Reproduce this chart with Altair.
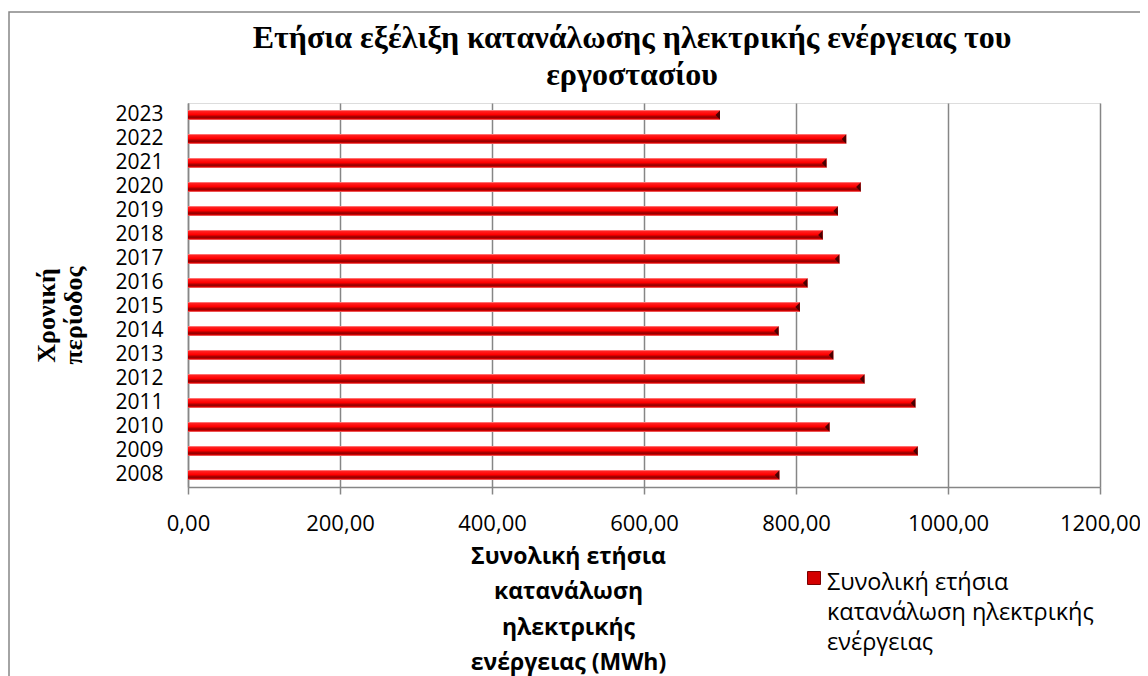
import altair as alt
import pandas as pd

YEARS = [2008, 2009, 2010, 2011, 2012, 2013, 2014, 2015,
         2016, 2017, 2018, 2019, 2020, 2021, 2022, 2023]
CONSUMPTION = [778, 960, 844, 957, 890, 849, 777, 805,
               815, 857, 835, 855, 885, 840, 866, 700]
X_TICKS = [0, 200, 400, 600, 800, 1000, 1200]
TITLE_LINES = ["Ετήσια εξέλιξη κατανάλωσης ηλεκτρικής ενέργειας του", "εργοστασίου"]
X_TITLE_LINES = ["Συνολική ετήσια", "κατανάλωση", "ηλεκτρικής", "ενέργειας (MWh)"]
Y_TITLE_LINES = ["Χρονική", "περίοδος"]
SERIES_LINES = ["Συνολική ετήσια", "κατανάλωση ηλεκτρικής", "ενέργειας"]
SERIES = " ".join(SERIES_LINES)

df = pd.DataFrame({
    "year": [str(y) for y in YEARS],
    "value": CONSUMPTION,
    "series": [SERIES] * len(YEARS),
})

GRAY = "#868686"
SANS = "Open Sans"
SERIF = "Liberation Serif"

x_enc = alt.X(
    "value:Q",
    scale=alt.Scale(domain=[0, 1200], nice=False, zero=True),
    axis=alt.Axis(
        values=X_TICKS,
        labelExpr="replace(format(datum.value, '.2f'), '.', ',')",
        labelFont=SANS, labelFontSize=22, labelColor="black",
        labelPadding=19, labelBaseline="top", labelFlush=False,
        tickSize=7, tickColor=GRAY, tickWidth=1.5,
        domainColor=GRAY, domainWidth=1.5,
        grid=True, gridColor=GRAY, gridWidth=1.5,
        title=X_TITLE_LINES,
        titleFont=SANS, titleFontSize=23, titleFontWeight="bold", titleColor="black",
        titleX=380, titleY=76, titleAlign="center", titleBaseline="alphabetic",
        titleAngle=0, titleLineHeight=35.5,
    ),
)

y_enc = alt.Y(
    "year:O",
    sort="descending",
    scale=alt.Scale(paddingInner=0, paddingOuter=0),
    axis=alt.Axis(
        labelFont=SANS, labelFontSize=21, labelColor="black",
        labelPadding=25, ticks=False, tickSize=0,
        domainColor=GRAY, domainWidth=1.5, grid=False,
        title=Y_TITLE_LINES,
        titleFont=SERIF, titleFontSize=26, titleFontWeight="bold", titleColor="black",
        titleAngle=270, titleX=-134, titleY=212, titleAlign="center",
        titleBaseline="alphabetic", titleLineHeight=27,
    ),
)

border = alt.Chart(alt.Data(values=[{}])).mark_rect(
    fill="white", fillOpacity=0, stroke=GRAY, strokeWidth=1.5
).encode(
    x=alt.value(-179), y=alt.value(-91), x2=alt.value(1000), y2=alt.value(700)
)

legend_bar = alt.Chart(df).mark_bar(size=10).encode(
    x=x_enc,
    y=y_enc,
    color=alt.Color(
        "series:N",
        scale=alt.Scale(range=["#d40000"]),
        legend=alt.Legend(
            orient="none", legendX=619, legendY=468, padding=0,
            title=SERIES_LINES, titleOrient="right",
            titleFont=SANS, titleFontSize=23.5, titleFontWeight="normal",
            titleColor="black", titleLineHeight=30, titleBaseline="top",
            titleAnchor="start", titleAlign="left", titlePadding=4,
            titleLimit=500,
            labelExpr="''", labelOffset=0,
            symbolType="square", symbolSize=169, symbolOpacity=1,
            symbolStrokeColor="#7a0000", symbolStrokeWidth=1,
        ),
    ),
)

shade = alt.Gradient(
    gradient="linear",
    stops=[
        alt.GradientStop(color="#ff9a9a", offset=0.0),
        alt.GradientStop(color="#ff2020", offset=0.14),
        alt.GradientStop(color="#ff0000", offset=0.45),
        alt.GradientStop(color="#c00000", offset=0.6),
        alt.GradientStop(color="#8a0000", offset=0.72),
        alt.GradientStop(color="#d00000", offset=0.86),
        alt.GradientStop(color="#ff8080", offset=1.0),
    ],
    x1=0, x2=0, y1=0, y2=1,
)

shade_bar = alt.Chart(df).mark_bar(size=10, color=shade).encode(
    x=alt.X("value:Q"),
    y=alt.Y("year:O", sort="descending"),
)

cap = alt.Chart(df).mark_point(
    shape="M0,-1L0,1L-1,0Z", filled=True, size=81, color="#3a0000", opacity=0.9
).encode(
    x=alt.X("value:Q"),
    y=alt.Y("year:O", sort="descending"),
)

chart = alt.layer(border, legend_bar, shade_bar, cap).properties(
    width=912,
    height=384,
    title=alt.TitleParams(
        text=TITLE_LINES, font=SERIF, fontSize=32, fontWeight="bold",
        color="black", anchor="middle", frame="group", lineHeight=37,
        offset=0, dx=-12, dy=81,
    ),
    padding={"left": 180, "top": 95, "right": 40, "bottom": 189},
    autosize=alt.AutoSizeParams(type="none"),
).configure_view(stroke=None).configure(background="white")

chart.save("out.html", embed_options={"renderer": "svg", "actions": False})
